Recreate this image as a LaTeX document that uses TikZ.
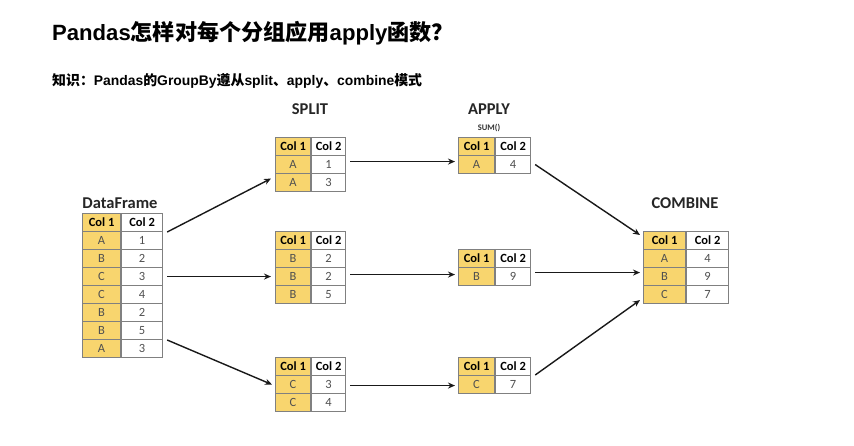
\documentclass[tikz,border=0pt]{standalone}
\usepackage{fontspec}
\setmainfont{Carlito}
\newfontfamily\cjk{Noto Sans CJK SC}
\newfontfamily\lat{Liberation Sans}
\usetikzlibrary{calc,arrows.meta}
\definecolor{gold}{HTML}{F8D56E}
\definecolor{bord}{HTML}{808080}
\definecolor{valc}{HTML}{505050}
\tikzset{
  cellbase/.style={draw=bord,line width=1.1pt,minimum height=18pt,inner sep=0pt,anchor=north west,font=\fontsize{12.5}{13}\selectfont},
  hcella/.style={cellbase,fill=gold,text=black,font=\fontsize{12.5}{13}\selectfont\bfseries},
  hcellb/.style={cellbase,fill=white,text=black,font=\fontsize{12.5}{13}\selectfont\bfseries},
  vcella/.style={cellbase,fill=gold,text=valc},
  vcellb/.style={cellbase,fill=white,text=valc},
  steplabel/.style={font=\fontsize{16.5}{18}\selectfont\bfseries,text=black!85},
  flow/.style={-{Stealth[length=7pt,width=6pt]},line width=1.4pt,black!90},
}
% name, x, y, width col1, width col2, rows
\newcommand\datatable[6]{%
  \node[hcella,minimum width=#4] (#1-0a) at (#2,#3) {Col 1};
  \node[hcellb,minimum width=#5] (#1-0b) at (#1-0a.north east) {Col 2};
  \foreach \va/\vb [count=\i] in {#6} {
    \node[vcella,minimum width=#4] (#1-\i a) at ($(#2,#3)+(0,18*\i)$) {\va};
    \node[vcellb,minimum width=#5] (#1-\i b) at (#1-\i a.north east) {\vb};
  }%
}
\begin{document}
\begin{tikzpicture}[x=1pt,y=-1pt]
\fill[white] (0,0) rectangle (854,445);
\useasboundingbox (0,0) rectangle (854,445);

\node[anchor=west,inner sep=0pt,font=\fontsize{22.1}{23}\selectfont\bfseries] (title) at (52,33) {{\lat Pandas}{\cjk 怎样对每个分组应用}{\lat apply}{\cjk 函数？}};
\node[anchor=west,inner sep=0pt,font=\fontsize{13.9}{15}\selectfont\bfseries] (sub) at (52,81) {{\cjk 知识：}{\lat Pandas}{\cjk 的}{\lat GroupBy}{\cjk 遵从}{\lat split}{\cjk 、}{\lat apply}{\cjk 、}{\lat combine}{\cjk 模式}};

\datatable{df}{82}{213}{38pt}{41pt}{A/1,B/2,C/3,C/4,B/2,B/5,A/3}
\datatable{sa}{275}{137}{35pt}{34pt}{A/1,A/3}
\datatable{sb}{275}{231}{35pt}{34pt}{B/2,B/2,B/5}
\datatable{sc}{275}{357}{35pt}{34pt}{C/3,C/4}
\datatable{aa}{458}{137}{36pt}{35pt}{A/4}
\datatable{ab}{458}{249}{36pt}{35pt}{B/9}
\datatable{ac}{458}{357}{36pt}{35pt}{C/7}
\datatable{cb}{643}{231}{42pt}{42pt}{A/4,B/9,C/7}

\node[steplabel] (dflab) at (120,203) {DataFrame};
\node[steplabel] (splitlab) at (310,109) {SPLIT};
\node[steplabel] (applylab) at (489,109) {APPLY};
\node[font=\fontsize{8.5}{9}\selectfont\bfseries,text=black!80] (sumlab) at (489,128) {SUM()};
\node[steplabel] (comblab) at (685,203) {COMBINE};

\draw[flow] ($(df-1b.north east)+(4,1)$) -- ($(sa-2a.west)+(-4,-4)$);
\draw[flow] ($(df-3b.east)+(4,0)$) -- ($(sb-2a.west)+(-4,0)$);
\draw[flow] ($(df-7b.north east)+(4,1)$) -- ($(sc-1a.west)+(-3,0)$);

\draw[flow] ($(sa-1b.east)+(4,-3)$) -- ($(aa-1a.west)+(-3,-3)$);
\draw[flow] ($(sb-2b.east)+(4,-2)$) -- ($(ab-1a.west)+(-3,-2)$);
\draw[flow] ($(sc-1b.east)+(4,1)$) -- ($(ac-1a.west)+(-3,1)$);

\draw[flow] ($(aa-1b.east)+(4,0)$) -- ($(cb-0a.north west)+(-3,4)$);
\draw[flow] ($(ab-1b.east)+(4,-4)$) -- ($(cb-2a.west)+(-3,-4)$);
\draw[flow] ($(ac-1b.north east)+(4,0)$) -- ($(cb-3a.south west)+(-3,-4)$);
\end{tikzpicture}
\end{document}
